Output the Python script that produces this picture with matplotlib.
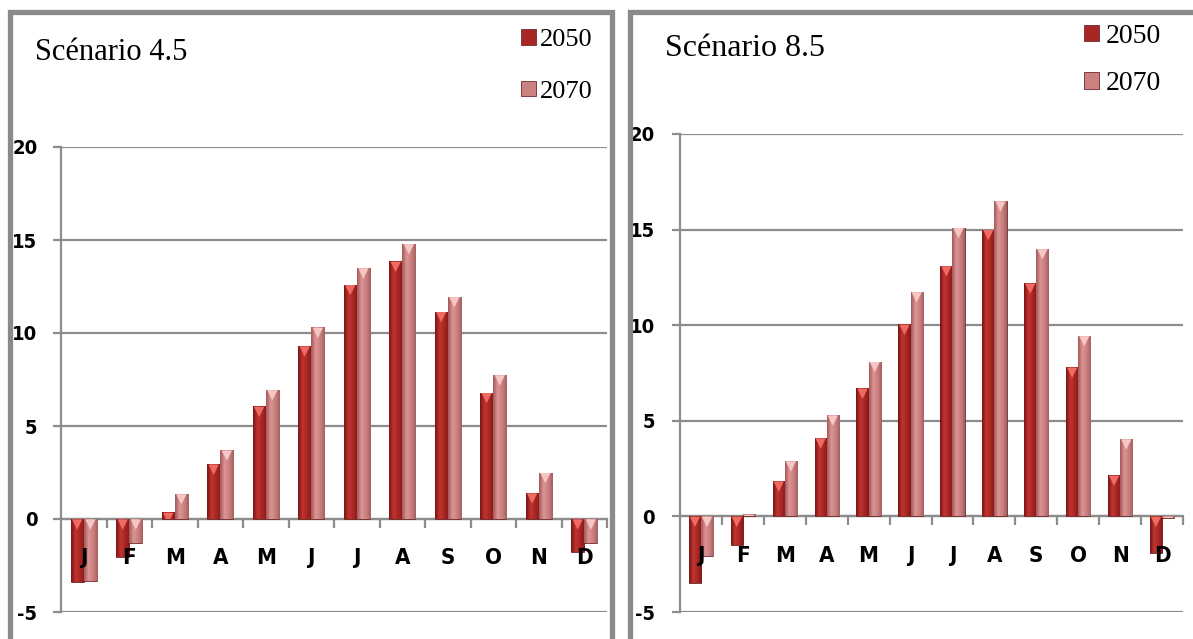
import numpy as np
import matplotlib
matplotlib.use("Agg")
import matplotlib.pyplot as plt
import matplotlib.transforms as mtransforms
from matplotlib.patches import Rectangle
from matplotlib.colors import LinearSegmentedColormap

plt.rcParams['axes.unicode_minus'] = False

# data
months = ['J', 'F', 'M', 'A', 'M', 'J', 'J', 'A', 'S', 'O', 'N', 'D']
years = ['2050', '2070']
rcp45_2050 = [-3.4, -2.05, 0.35, 2.95, 6.05, 9.3, 12.6, 13.85, 11.15, 6.8, 1.4, -1.8]
rcp45_2070 = [-3.35, -1.3, 1.35, 3.7, 6.95, 10.3, 13.5, 14.8, 11.95, 7.75, 2.5, -1.3]
rcp85_2050 = [-3.5, -1.5, 1.85, 4.1, 6.7, 10.05, 13.1, 15.0, 12.2, 7.8, 2.15, -1.9]
rcp85_2070 = [-2.05, 0.1, 2.9, 5.3, 8.1, 11.75, 15.1, 16.5, 14.0, 9.45, 4.05, -0.1]
titles = ['Scénario 4.5', 'Scénario 8.5']

serif_font = ['Liberation Serif', 'DejaVu Serif']

# bar looks: gradient across the bar + light bevel triangle
cmaps = [LinearSegmentedColormap.from_list('c50', ['#7a1414', '#c0352f', '#a82624', '#841a1a']),
         LinearSegmentedColormap.from_list('c70', ['#a55858', '#dc9494', '#cc8080', '#a46060'])]
face = ['#a82624', '#cc8080']
tri = ['#ef6a60', '#f6c6c4']


def draw_panel(ax, v2050, v2070, ypad):
    x = np.arange(len(months))
    w = 0.29
    shift = mtransforms.ScaledTranslation(0, -4 / 72, ax.figure.dpi_scale_trans)
    for k, vals in enumerate([v2050, v2070]):
        off = (k - 0.5) * w
        bars = ax.bar(x + off, vals, width=w, color=face[k], edgecolor='#6e2a2a',
                      linewidth=0.6, zorder=3, label=years[k])
        grad = np.linspace(0, 1, 64).reshape(1, -1)
        for xi, v, b in zip(x, vals, bars):
            x0, y0 = b.get_x(), b.get_y()
            bw, bh = b.get_width(), b.get_height()
            im = ax.imshow(grad, cmap=cmaps[k], aspect='auto', zorder=3.5,
                           extent=(x0, x0 + bw, min(y0, y0 + bh), max(y0, y0 + bh)))
            im.set_clip_path(b)
            # bevel triangle at the top edge of the bar, clipped to it
            sc = ax.scatter([xi + off], [max(v, 0)], marker='v', s=55, color=tri[k],
                            edgecolors='none', zorder=4, transform=ax.transData + shift)
            sc.set_clip_path(b)

    ax.set_xlim(-0.5, len(months) - 0.5)
    ax.set_ylim(-5, 20)
    ax.set_yticks([-5, 0, 5, 10, 15, 20])
    ax.grid(axis='y', color='#8c8c8c', linewidth=1.6, zorder=1)
    ax.set_axisbelow(True)
    for s in ['top', 'right']:
        ax.spines[s].set_visible(False)
    ax.spines['left'].set_color('#8c8c8c')
    ax.spines['left'].set_linewidth(1.6)
    ax.spines['bottom'].set_position(('data', 0))
    ax.spines['bottom'].set_color('#8c8c8c')
    ax.spines['bottom'].set_linewidth(1.6)

    ax.set_xticks(x)
    ax.set_xticklabels(months)
    ax.set_xticks(np.arange(0.5, len(months), 1), minor=True)
    ax.tick_params(axis='x', which='major', length=0, pad=21)
    ax.tick_params(axis='x', which='minor', length=6.5, width=1.6, color='#8c8c8c', direction='out')
    ax.tick_params(axis='y', length=6, width=1.6, color='#8c8c8c', pad=ypad)
    for lab in ax.get_xticklabels():
        lab.set_fontsize(16)
    for lab in ax.get_yticklabels():
        lab.set_fontsize(14.5)
    for lab in ax.get_xticklabels() + ax.get_yticklabels():
        lab.set_family('DejaVu Sans')
        lab.set_stretch('condensed')
        lab.set_fontweight('bold')
    ax.xaxis.set_zorder(5)


fig = plt.figure(figsize=(11.93, 6.39), dpi=100)
W, H = 1193.0, 639.0

# panel frames
fig.patches.append(Rectangle((10 / W, -0.05), 602 / W, 1.05 - 12 / H, transform=fig.transFigure,
                             fill=False, edgecolor='#8a8a8a', linewidth=3.8))
fig.patches.append(Rectangle((629.5 / W, -0.05), 0.6, 1.05 - 12 / H, transform=fig.transFigure,
                             fill=False, edgecolor='#8a8a8a', linewidth=3.8))

ax1 = fig.add_axes([61 / W, 1 - 612 / H, 546 / W, (612 - 147) / H])
ax2 = fig.add_axes([680 / W, 1 - 612 / H, 503 / W, (612 - 134) / H])
draw_panel(ax1, rcp45_2050, rcp45_2070, ypad=11)
draw_panel(ax2, rcp85_2050, rcp85_2070, ypad=12)

# titles
fig.text(35 / W, 1 - 52 / H, titles[0], family=serif_font, fontsize=22, va='center', ha='left')
fig.text(665 / W, 1 - 48 / H, titles[1], family=serif_font, fontsize=23, va='center', ha='left')

# legends
for ax, pos, fs, sp, tp in [(ax1, (508 / W, 1 - 16 / H), 19, 1.1, 0.15),
                            (ax2, (1070 / W, 1 - 10 / H), 20, 0.8, 0.25)]:
    h, l = ax.get_legend_handles_labels()
    leg = fig.legend(h, l, loc='upper left', bbox_to_anchor=pos, frameon=False,
                     handlelength=0.55, handleheight=0.55, handletextpad=tp,
                     labelspacing=sp, borderpad=0, prop={'family': serif_font, 'size': fs})

fig.savefig('out.png', dpi=100)
